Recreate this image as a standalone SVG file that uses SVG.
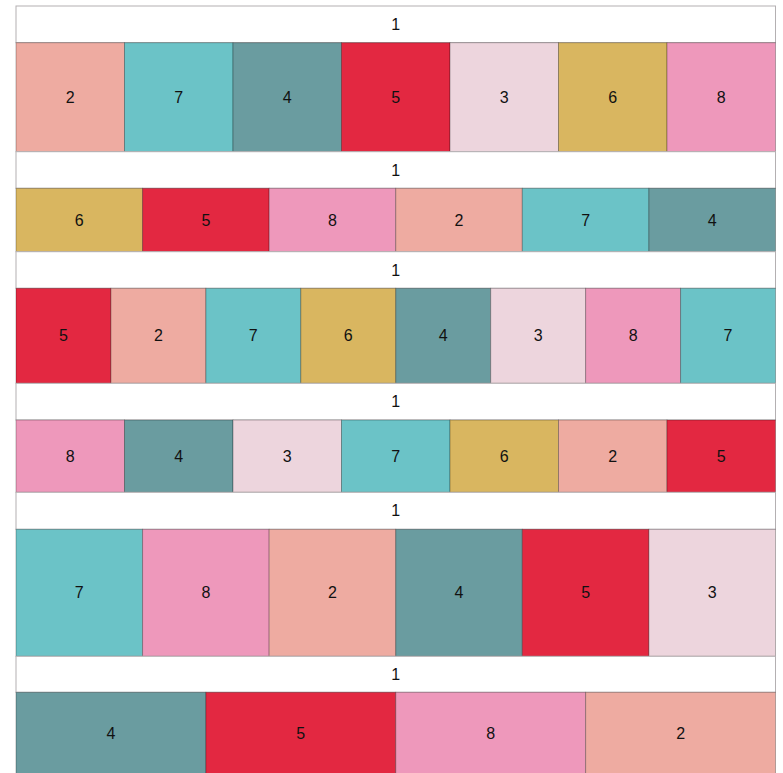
<svg xmlns="http://www.w3.org/2000/svg" width="783" height="773" viewBox="0 0 783 773">
<style>
.h{fill:#fff;stroke:#b4b0b2;stroke-width:1}
.c{stroke:#000;stroke-opacity:0.28;stroke-width:1}
.t{font-family:"Liberation Sans",Arial,sans-serif;font-size:16px;fill:#111;text-anchor:middle;dominant-baseline:central}
.k2{fill:#eeaba1}.k7{fill:#6bc3c7}.k4{fill:#6a9ca0}.k5{fill:#e32841}.k3{fill:#edd5dd}.k6{fill:#d9b660}.k8{fill:#ee98bb}
</style>
<rect width="783" height="773" fill="#fff"/>
<g id="connectors"/>
<g id="band1">
<rect class="h" x="16" y="6" width="759.5" height="36.7"/><text class="t" x="395.75" y="24.5">1</text>
<g id="b1n1"><rect class="c k2" x="16" y="42.7" width="108.5" height="109"/><text class="t" x="70.25" y="97.2">2</text></g>
<g id="b1n2"><rect class="c k7" x="124.5" y="42.7" width="108.5" height="109"/><text class="t" x="178.75" y="97.2">7</text></g>
<g id="b1n3"><rect class="c k4" x="233" y="42.7" width="108.5" height="109"/><text class="t" x="287.25" y="97.2">4</text></g>
<g id="b1n4"><rect class="c k5" x="341.5" y="42.7" width="108.5" height="109"/><text class="t" x="395.75" y="97.2">5</text></g>
<g id="b1n5"><rect class="c k3" x="450" y="42.7" width="108.5" height="109"/><text class="t" x="504.25" y="97.2">3</text></g>
<g id="b1n6"><rect class="c k6" x="558.5" y="42.7" width="108.5" height="109"/><text class="t" x="612.75" y="97.2">6</text></g>
<g id="b1n7"><rect class="c k8" x="667" y="42.7" width="108.5" height="109"/><text class="t" x="721.25" y="97.2">8</text></g>
</g>
<g id="band2">
<rect class="h" x="16" y="151.7" width="759.5" height="36.6"/><text class="t" x="395.75" y="170">1</text>
<g id="b2n1"><rect class="c k6" x="16" y="188.3" width="126.58" height="63.4"/><text class="t" x="79.3" y="220">6</text></g>
<g id="b2n2"><rect class="c k5" x="142.58" y="188.3" width="126.58" height="63.4"/><text class="t" x="205.9" y="220">5</text></g>
<g id="b2n3"><rect class="c k8" x="269.17" y="188.3" width="126.58" height="63.4"/><text class="t" x="332.5" y="220">8</text></g>
<g id="b2n4"><rect class="c k2" x="395.75" y="188.3" width="126.58" height="63.4"/><text class="t" x="459" y="220">2</text></g>
<g id="b2n5"><rect class="c k7" x="522.33" y="188.3" width="126.58" height="63.4"/><text class="t" x="585.6" y="220">7</text></g>
<g id="b2n6"><rect class="c k4" x="648.92" y="188.3" width="126.58" height="63.4"/><text class="t" x="712.2" y="220">4</text></g>
</g>
<g id="band3">
<rect class="h" x="16" y="251.7" width="759.5" height="36.6"/><text class="t" x="395.75" y="270">1</text>
<g id="b3n1"><rect class="c k5" x="16" y="288.3" width="94.94" height="95"/><text class="t" x="63.5" y="335.8">5</text></g>
<g id="b3n2"><rect class="c k2" x="110.94" y="288.3" width="94.94" height="95"/><text class="t" x="158.4" y="335.8">2</text></g>
<g id="b3n3"><rect class="c k7" x="205.88" y="288.3" width="94.94" height="95"/><text class="t" x="253.3" y="335.8">7</text></g>
<g id="b3n4"><rect class="c k6" x="300.81" y="288.3" width="94.94" height="95"/><text class="t" x="348.3" y="335.8">6</text></g>
<g id="b3n5"><rect class="c k4" x="395.75" y="288.3" width="94.94" height="95"/><text class="t" x="443.2" y="335.8">4</text></g>
<g id="b3n6"><rect class="c k3" x="490.69" y="288.3" width="94.94" height="95"/><text class="t" x="538.2" y="335.8">3</text></g>
<g id="b3n7"><rect class="c k8" x="585.63" y="288.3" width="94.94" height="95"/><text class="t" x="633.1" y="335.8">8</text></g>
<g id="b3n8"><rect class="c k7" x="680.56" y="288.3" width="94.94" height="95"/><text class="t" x="728" y="335.8">7</text></g>
</g>
<g id="band4">
<rect class="h" x="16" y="383.3" width="759.5" height="36.7"/><text class="t" x="395.75" y="401.6">1</text>
<g id="b4n1"><rect class="c k8" x="16" y="420" width="108.5" height="72.3"/><text class="t" x="70.25" y="456.2">8</text></g>
<g id="b4n2"><rect class="c k4" x="124.5" y="420" width="108.5" height="72.3"/><text class="t" x="178.75" y="456.2">4</text></g>
<g id="b4n3"><rect class="c k3" x="233" y="420" width="108.5" height="72.3"/><text class="t" x="287.25" y="456.2">3</text></g>
<g id="b4n4"><rect class="c k7" x="341.5" y="420" width="108.5" height="72.3"/><text class="t" x="395.75" y="456.2">7</text></g>
<g id="b4n5"><rect class="c k6" x="450" y="420" width="108.5" height="72.3"/><text class="t" x="504.25" y="456.2">6</text></g>
<g id="b4n6"><rect class="c k2" x="558.5" y="420" width="108.5" height="72.3"/><text class="t" x="612.75" y="456.2">2</text></g>
<g id="b4n7"><rect class="c k5" x="667" y="420" width="108.5" height="72.3"/><text class="t" x="721.25" y="456.2">5</text></g>
</g>
<g id="band5">
<rect class="h" x="16" y="492.3" width="759.5" height="37"/><text class="t" x="395.75" y="510.8">1</text>
<g id="b5n1"><rect class="c k7" x="16" y="529.3" width="126.58" height="127"/><text class="t" x="79.3" y="592.8">7</text></g>
<g id="b5n2"><rect class="c k8" x="142.58" y="529.3" width="126.58" height="127"/><text class="t" x="205.9" y="592.8">8</text></g>
<g id="b5n3"><rect class="c k2" x="269.17" y="529.3" width="126.58" height="127"/><text class="t" x="332.5" y="592.8">2</text></g>
<g id="b5n4"><rect class="c k4" x="395.75" y="529.3" width="126.58" height="127"/><text class="t" x="459" y="592.8">4</text></g>
<g id="b5n5"><rect class="c k5" x="522.33" y="529.3" width="126.58" height="127"/><text class="t" x="585.6" y="592.8">5</text></g>
<g id="b5n6"><rect class="c k3" x="648.92" y="529.3" width="126.58" height="127"/><text class="t" x="712.2" y="592.8">3</text></g>
</g>
<g id="band6">
<rect class="h" x="16" y="656.3" width="759.5" height="36"/><text class="t" x="395.75" y="674.3">1</text>
<g id="b6n1"><rect class="c k4" x="16" y="692.3" width="189.88" height="100"/><text class="t" x="110.9" y="733">4</text></g>
<g id="b6n2"><rect class="c k5" x="205.88" y="692.3" width="189.88" height="100"/><text class="t" x="300.8" y="733">5</text></g>
<g id="b6n3"><rect class="c k8" x="395.75" y="692.3" width="189.88" height="100"/><text class="t" x="490.7" y="733">8</text></g>
<g id="b6n4"><rect class="c k2" x="585.63" y="692.3" width="189.88" height="100"/><text class="t" x="680.6" y="733">2</text></g>
</g>
</svg>
